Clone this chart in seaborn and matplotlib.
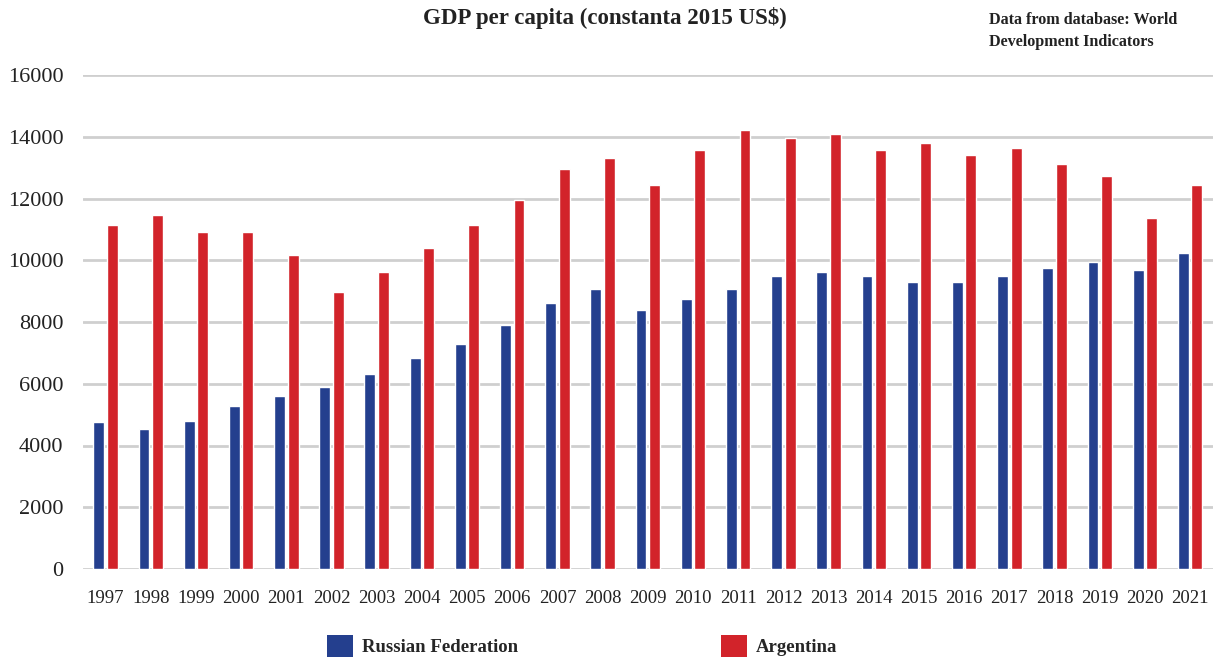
import numpy as np
import pandas as pd
import matplotlib
matplotlib.use("Agg")
import matplotlib.pyplot as plt
import seaborn as sns
from matplotlib.patches import Patch

# ── Data ──────────────────────────────────────────────────────────────────────
years = [str(y) for y in range(1997, 2022)]
russia = [4750, 4530, 4810, 5290, 5610, 5900, 6310, 6820, 7280, 7910,
          8620, 9070, 8400, 8760, 9080, 9500, 9630, 9500, 9310, 9310,
          9500, 9760, 9960, 9690, 10250]
argentina = [11160, 11480, 10920, 10920, 10160, 8960, 9630, 10410, 11160, 11970,
             12950, 13330, 12450, 13590, 14230, 13950, 14110, 13590, 13810, 13400,
             13650, 13130, 12750, 11380, 12450]
countries = ["Russian Federation", "Argentina"]
colors = ["#243f8e", "#d2232a"]

df = pd.DataFrame({
    "Year": years * 2,
    "GDP": russia + argentina,
    "Country": [countries[0]] * len(years) + [countries[1]] * len(years),
})

sns.set_theme(style="white")
plt.rcParams["font.family"] = ["Liberation Serif", "DejaVu Serif"]

fig = plt.figure(figsize=(12.2, 6.6), dpi=100)
ax = fig.add_axes([0.068, 0.138, 0.926, 0.748])

sns.barplot(data=df, x="Year", y="GDP", hue="Country", palette=colors,
            width=0.6, gap=0.2, saturation=1, ax=ax, legend=False)

ax.set_xlim(-0.5, len(years) - 0.5)
ax.set_ylim(0, 16000)
ax.set_yticks(range(0, 16001, 2000))
ax.yaxis.grid(True, color="#cfcfcf", lw=2)
ax.set_axisbelow(True)
for s in ax.spines.values():
    s.set_visible(False)
ax.tick_params(axis="y", length=0, pad=14, labelsize=16, labelcolor="#222222")
ax.tick_params(axis="x", length=0, pad=15, labelsize=13.5, labelcolor="#222222")
ax.set_xlabel("")
ax.set_ylabel("")

fig.text(0.496, 0.972, "GDP per capita (constanta 2015 US$)", ha="center", va="center",
         fontsize=16.5, fontweight="bold", color="#222222")
fig.text(0.811, 0.982, "Data from database: World\nDevelopment Indicators", ha="left",
         va="top", fontsize=11.6, fontweight="bold", color="#222222", linespacing=1.5)

handles = [Patch(facecolor=c, edgecolor="none") for c in colors]
fig.legend(handles, countries, loc="center", bbox_to_anchor=(0.477, 0.021), ncol=2,
           frameon=False, prop={"weight": "bold", "size": 13.5},
           handlelength=1.39, handleheight=1.39, handletextpad=0.5, columnspacing=10.8,
           borderpad=0, borderaxespad=0)

fig.savefig("out.png", dpi=100)
